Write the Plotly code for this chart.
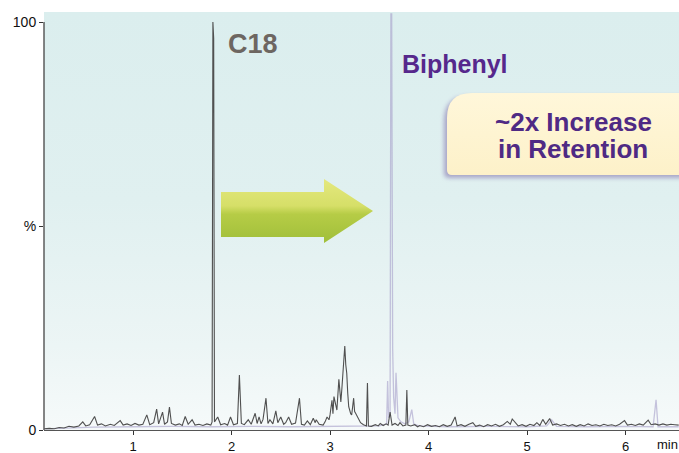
import base64
import plotly.graph_objects as go

# ---------------- data ----------------
c18_time = [
    0.10, 0.15, 0.20, 0.25, 0.30, 0.35, 0.40, 0.45, 0.49, 0.52, 0.56, 0.61, 0.64, 0.68,
    0.72, 0.77, 0.81, 0.87, 0.90, 0.94, 0.98, 1.02, 1.06, 1.10, 1.14, 1.17, 1.21, 1.24,
    1.26, 1.30, 1.32, 1.35, 1.37, 1.39, 1.43, 1.47, 1.50, 1.53, 1.56, 1.60, 1.63, 1.67,
    1.71, 1.75, 1.79, 1.803, 1.811, 1.819, 1.827, 1.86, 1.89, 1.93, 1.96, 1.99, 2.02, 2.06,
    2.08, 2.10, 2.13, 2.17, 2.20, 2.24, 2.26, 2.28, 2.30, 2.32, 2.35, 2.37, 2.39, 2.42,
    2.45, 2.47, 2.50, 2.53, 2.55, 2.58, 2.61, 2.65, 2.69, 2.71, 2.74, 2.77, 2.80, 2.83,
    2.85, 2.86, 2.89, 2.93, 2.95, 2.97, 2.99, 3.00, 3.02, 3.03, 3.04, 3.06, 3.07, 3.09,
    3.10, 3.11, 3.12, 3.13, 3.14, 3.15, 3.16, 3.17, 3.18, 3.19, 3.21, 3.22, 3.24, 3.25,
    3.26, 3.28, 3.29, 3.31, 3.34, 3.37, 3.38, 3.39, 3.42, 3.46, 3.49, 3.51, 3.54, 3.57,
    3.59, 3.61, 3.63, 3.66, 3.69, 3.71, 3.74, 3.77, 3.78, 3.79, 3.82, 3.86, 3.89, 3.91,
    3.95, 3.99, 4.03, 4.07, 4.11, 4.15, 4.19, 4.23, 4.27, 4.29, 4.33, 4.37, 4.41, 4.45,
    4.48, 4.52, 4.56, 4.60, 4.64, 4.68, 4.72, 4.76, 4.80, 4.83, 4.85, 4.88, 4.91, 4.95,
    4.99, 5.03, 5.07, 5.10, 5.13, 5.16, 5.19, 5.23, 5.26, 5.30, 5.34, 5.38, 5.42, 5.46,
    5.50, 5.54, 5.58, 5.62, 5.66, 5.70, 5.74, 5.78, 5.82, 5.86, 5.90, 5.94, 5.99, 6.02,
    6.06, 6.10, 6.14, 6.18, 6.23, 6.26, 6.30, 6.34, 6.38, 6.42, 6.46, 6.50, 6.54,
]
c18_signal = [
    0.3, 0.4, 0.3, 0.6, 0.5, 0.9, 0.7, 1.0, 2.0, 1.0, 1.3, 3.3, 1.2, 1.5,
    1.0, 1.4, 1.1, 2.3, 1.2, 1.5, 1.1, 1.6, 1.2, 1.4, 3.7, 1.3, 1.8, 5.1,
    1.5, 4.4, 1.4, 2.0, 5.6, 1.6, 1.2, 1.5, 1.1, 3.3, 1.4, 2.5, 1.2, 1.4,
    1.1, 1.5, 1.2, 2.0, 100.0, 96.0, 2.0, 3.2, 1.3, 1.6, 1.2, 3.2, 1.3, 1.6,
    13.5, 1.6, 1.3, 2.5, 1.4, 4.1, 1.6, 3.2, 1.5, 2.6, 7.8, 1.6, 2.5, 1.5,
    4.7, 1.8, 3.2, 1.4, 1.8, 3.2, 1.4, 1.7, 7.8, 1.4, 1.2, 2.2, 1.3, 2.9,
    1.8, 2.5, 1.4, 1.2, 2.0, 3.2, 2.5, 3.7, 7.3, 4.0, 8.2, 5.5, 4.9, 12.4,
    8.0, 6.9, 10.0, 14.2, 17.2, 20.6, 16.0, 13.9, 9.0, 5.7, 4.0, 3.7, 7.8, 4.5,
    4.1, 3.0, 2.5, 1.8, 1.3, 1.0, 11.5, 1.0, 0.9, 1.3, 1.0, 1.6, 1.1, 1.5,
    1.2, 4.4, 1.2, 1.6, 1.1, 1.8, 1.0, 1.2, 9.8, 1.2, 1.0, 1.3, 0.8, 1.1,
    0.8, 1.3, 0.9, 1.1, 0.8, 1.3, 0.9, 1.2, 3.2, 1.0, 1.3, 0.9, 1.4, 1.8,
    0.9, 1.2, 0.8, 1.3, 1.0, 1.4, 0.9, 1.3, 2.1, 1.4, 2.7, 1.8, 1.0, 1.3,
    0.9, 1.4, 1.1, 1.8, 1.1, 2.6, 1.4, 2.8, 1.2, 1.5, 1.1, 1.4, 1.0, 1.3,
    0.9, 1.3, 1.0, 1.5, 1.1, 1.3, 1.0, 1.4, 1.1, 1.3, 1.0, 1.4, 2.3, 1.2,
    1.4, 1.1, 1.5, 1.2, 2.4, 1.3, 1.5, 1.2, 1.5, 1.2, 1.4, 1.3, 1.2,
]

biphenyl_time = [
    0.10, 0.30, 0.60, 1.00, 1.40, 1.80, 2.20, 2.60, 3.00, 3.30, 3.50, 3.575, 3.585,
    3.595, 3.61, 3.618, 3.626, 3.636, 3.646, 3.66, 3.67, 3.69, 3.72, 3.76, 3.80, 3.83,
    3.85, 3.90, 4.20, 4.60, 5.00, 5.20, 5.25, 5.30, 5.60, 6.00, 6.28, 6.31, 6.33, 6.54,
]
biphenyl_signal = [
    0.3, 0.5, 0.7, 0.8, 0.9, 0.8, 0.9, 0.8, 0.9, 0.8, 1.0, 1.5, 12.0,
    3.0, 4.0, 102.0, 102.0, 20.0, 8.0, 4.0, 14.0, 3.0, 2.0, 1.5, 2.0, 5.0,
    1.5, 1.0, 0.8, 0.9, 0.8, 1.0, 2.5, 0.9, 0.8, 0.9, 0.8, 7.4, 0.8, 0.8,
]

y_tick_values = [0, 50, 100]
y_tick_labels = ["0", "%", "100"]
x_tick_values = [1, 2, 3, 4, 5, 6]
x_tick_labels = ["1", "2", "3", "4", "5", "6"]

# ---------------- decorative images (svg) ----------------
def svg_uri(svg):
    return "data:image/svg+xml;base64," + base64.b64encode(svg.encode()).decode()

bg_svg = """<svg xmlns='http://www.w3.org/2000/svg' width='635' height='418' viewBox='0 0 635 418' preserveAspectRatio='none'>
<defs><linearGradient id='g' x1='0' y1='0' x2='0' y2='1'>
<stop offset='0' stop-color='#dbeeee'/><stop offset='0.45' stop-color='#e0f0f0'/>
<stop offset='0.8' stop-color='#ecf5f5'/><stop offset='1' stop-color='#f6fafa'/></linearGradient></defs>
<rect x='0' y='0' width='635' height='418' fill='url(#g)'/></svg>"""

arrow_svg = """<svg xmlns='http://www.w3.org/2000/svg' width='158' height='70' viewBox='0 0 158 70' preserveAspectRatio='none'>
<defs><linearGradient id='a' x1='0' y1='0' x2='0' y2='1'>
<stop offset='0' stop-color='#e4e87e'/><stop offset='0.42' stop-color='#d6df68'/>
<stop offset='0.55' stop-color='#b6cc46'/><stop offset='1' stop-color='#a0bf3a'/></linearGradient></defs>
<polygon points='3,16 106,16 106,3 155,35 106,67 106,61 3,61' fill='url(#a)'/></svg>"""

callout_svg = """<svg xmlns='http://www.w3.org/2000/svg' width='243' height='98' viewBox='0 0 243 98' preserveAspectRatio='none'>
<defs><filter id='b' x='-20%' y='-20%' width='140%' height='140%'><feGaussianBlur stdDeviation='2.2'/></filter>
<linearGradient id='c' x1='0' y1='0' x2='0' y2='1'>
<stop offset='0' stop-color='#fff7da'/><stop offset='1' stop-color='#fdf1c9'/></linearGradient></defs>
<path d='M 33 10 L 260 10 L 260 92 L 13 92 Q 8 92 8 87 L 8 35 Q 8 10 33 10 Z' fill='#7d6aa8' opacity='0.55' filter='url(#b)'/>
<path d='M 36 7 L 260 7 L 260 89 L 16 89 Q 11 89 11 84 L 11 32 Q 11 7 36 7 Z' fill='url(#c)'/>
</svg>"""

W, H = 679, 453
ML, MR, MT, MB = 44, 0, 12, 23
PW, PH = W - ML - MR, H - MT - MB


def px_x(px):
    return (px - ML) / PW


def px_y(py):
    return (H - MB - py) / PH


fig = go.Figure()
fig.add_trace(go.Scatter(x=biphenyl_time, y=biphenyl_signal, mode="lines",
                         line=dict(color="rgba(170,165,205,0.65)", width=1.3),
                         hoverinfo="skip", showlegend=False))
fig.add_trace(go.Scatter(x=c18_time, y=c18_signal, mode="lines",
                         line=dict(color="#505050", width=1.1),
                         hoverinfo="skip", showlegend=False))

fig.update_layout(
    width=W, height=H,
    margin=dict(l=ML, r=MR, t=MT, b=MB, pad=0),
    paper_bgcolor="white",
    plot_bgcolor="rgba(0,0,0,0)",
    font=dict(family="Liberation Sans, Arial, sans-serif", size=14, color="#111"),
    xaxis=dict(range=[0.0964, 6.543], showgrid=False, zeroline=False, automargin=False,
               showline=True, linecolor="#555", linewidth=1.2,
               ticks="outside", ticklen=4, tickcolor="#333", tickwidth=1,
               ticklabelstandoff=0,
               tickvals=x_tick_values, ticktext=x_tick_labels,
               tickfont=dict(size=13, color="#111")),
    yaxis=dict(range=[0, 102.45], showgrid=False, zeroline=False, showline=False,
               automargin=False,
               ticks="outside", ticklen=4, tickcolor="#333", tickwidth=1,
               tickvals=y_tick_values, ticktext=y_tick_labels,
               tickfont=dict(size=14, color="#111")),
    images=[
        dict(source=svg_uri(bg_svg), xref="paper", yref="paper", x=0, y=1,
             sizex=1, sizey=1, xanchor="left", yanchor="top", sizing="stretch",
             layer="below"),
        dict(source=svg_uri(arrow_svg), xref="paper", yref="paper",
             x=px_x(218), y=px_y(176), sizex=158 / PW, sizey=70 / PH,
             xanchor="left", yanchor="top", sizing="stretch", layer="above"),
        dict(source=svg_uri(callout_svg), xref="paper", yref="paper",
             x=px_x(436), y=px_y(86), sizex=243 / PW, sizey=98 / PH,
             xanchor="left", yanchor="top", sizing="stretch", layer="above"),
    ],
    shapes=[
        dict(type="line", xref="paper", yref="y", x0=0, x1=0, y0=0, y1=100,
             line=dict(color="#444", width=1.3)),
    ],
    annotations=[
        dict(text="<b>C18</b>", x=2.218, y=94.6, xref="x", yref="y", showarrow=False,
             font=dict(size=27, color="#6d6661"), xanchor="center", yanchor="middle"),
        dict(text="<b>Biphenyl</b>", x=4.269, y=89.7, xref="x", yref="y", showarrow=False,
             font=dict(size=25, color="#56288c"), xanchor="center", yanchor="middle"),
        dict(text="<b>~2x Increase</b>", x=5.467, y=75.6, xref="x", yref="y", showarrow=False,
             height=27, valign="middle",
             font=dict(size=26, color="#4f2a84"), xanchor="center", yanchor="middle"),
        dict(text="<b>in Retention</b>", x=5.467, y=69.0, xref="x", yref="y", showarrow=False,
             height=27, valign="middle",
             font=dict(size=26, color="#4f2a84"), xanchor="center", yanchor="middle"),
        dict(text="min", x=6.43, y=px_y(444), xref="x", yref="paper", showarrow=False,
             font=dict(size=13, color="#111"), xanchor="center", yanchor="middle"),
    ],
)

fig.write_html(
    "out.html",
    config={"displayModeBar": False},
    post_script="document.body.style.margin='0';document.body.style.overflow='hidden';",
)
